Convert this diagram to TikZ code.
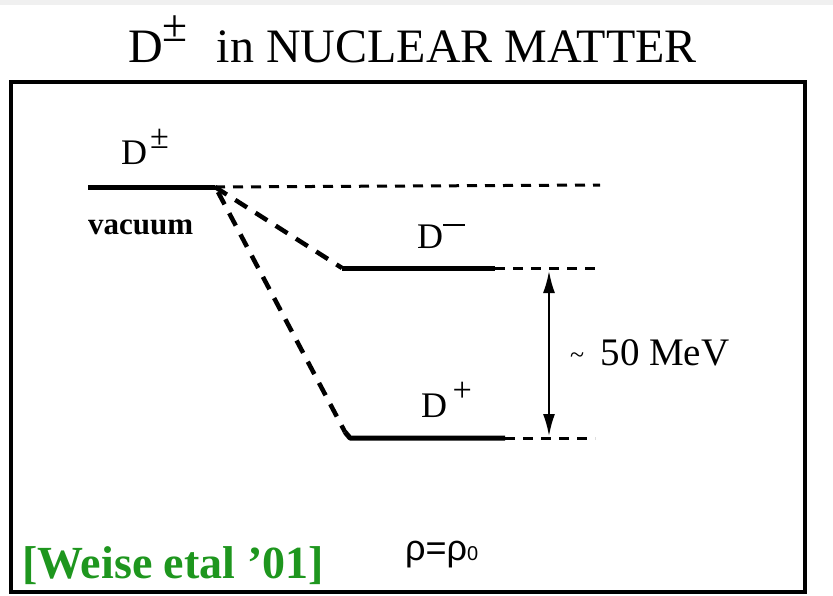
\documentclass[tikz,border=0pt]{standalone}
\usepackage{fontspec}
\setmainfont{Liberation Serif}
\newfontfamily\greekfont{Liberation Sans}
\usetikzlibrary{arrows.meta}
\definecolor{refgreen}{RGB}{30,150,30}
\newcommand{\supsym}[1]{\raisebox{0.42em}{\scalebox{0.95}{#1}}}
\begin{document}
\begin{tikzpicture}[x=1pt,y=-1pt,
  level/.style={line width=5pt},
  dashlevel/.style={line width=3pt,dash pattern=on 10pt off 8pt},
  diag/.style={line width=4.5pt,dash pattern=on 14pt off 10pt},
  lbl/.style={inner sep=0pt,anchor=base west},
  gaparrow/.style={line width=2pt,{Latex[length=22pt,width=12pt]}-{Latex[length=22pt,width=12pt]}},
]
\useasboundingbox (0,0) rectangle (833,595);
\fill[black!6] (0,0) rectangle (833,5);
% frame
\draw[line width=4pt] (11,82) rectangle (805,592);
% title
\node[lbl] (title) at (128,62) {\fontsize{48}{50}\selectfont D\supsym{±}\hspace{0.6em}in NUCLEAR MATTER};
% coordinates of levels
\coordinate (vL) at (88,187);
\coordinate (vR) at (215,187);
\coordinate (vE) at (600,185);
\coordinate (mL) at (342,268);
\coordinate (mR) at (495,268);
\coordinate (mE) at (595,268);
\coordinate (pC) at (345,432);
\coordinate (pL) at (350,438);
\coordinate (pR) at (505,438);
\coordinate (pE) at (595,438);
% vacuum level
\draw[level] (vL) -- (vR);
\draw[dashlevel] (vR) -- (vE);
\node[lbl] (dpm) at (121,164) {\fontsize{36}{38}\selectfont D\hspace{0.08em}\supsym{±}};
\node[lbl] (vac) at (88,234) {\fontsize{31}{32}\selectfont\bfseries vacuum};
% D- level
\draw[diag] (vR) -- (mL);
\draw[level] (mL) -- (mR);
\draw[dashlevel] (mR) -- (mE);
\node[lbl] (dm) at (417,248) {\fontsize{36}{38}\selectfont D\raisebox{0.6em}{\rule{0.6em}{0.07em}}};
% D+ level
\draw[diag] (218,192) -- (pC);
\draw[level,line join=round] (pC) -- (pL) -- (pR);
\draw[dashlevel] (pR) -- (pE);
\node[lbl] (dp) at (421,417) {\fontsize{36}{38}\selectfont D\hspace{0.15em}\supsym{+}};
% arrow
\coordinate (aT) at (549,271);
\coordinate (aB) at (549,436);
\draw[gaparrow] (aT) -- (aB);
\node[lbl] (mev) at (570,365) {\fontsize{39}{41}\selectfont \raisebox{0.05em}{\fontsize{26}{28}\selectfont\char"007E}\, 50 MeV};
% bottom labels
\node[lbl,text=refgreen] (ref) at (22,578) {\fontsize{46}{48}\selectfont\bfseries [Weise etal ’01]};
\node[lbl] (rho) at (405,560) {\fontsize{36}{38}\greekfont ρ=ρ\raisebox{0pt}{\fontsize{20}{22}\selectfont 0}};
\end{tikzpicture}
\end{document}
